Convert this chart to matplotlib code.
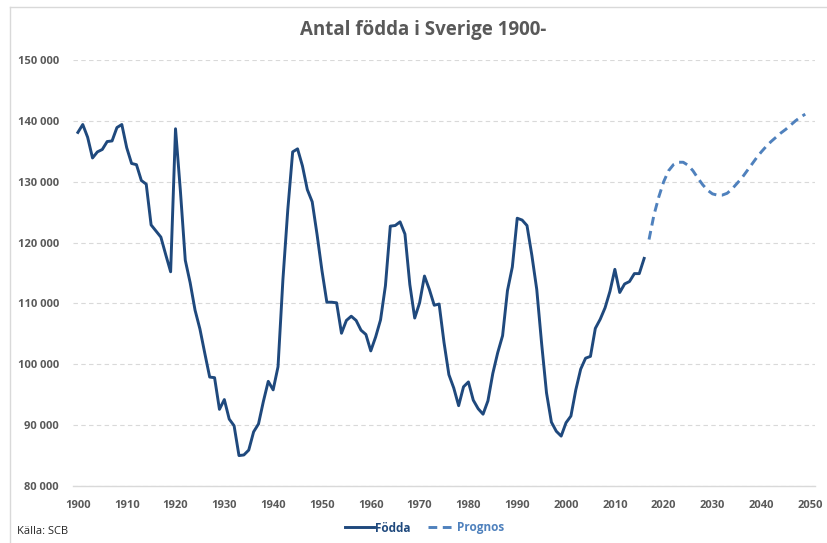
import matplotlib.pyplot as plt
from matplotlib.lines import Line2D
from matplotlib.ticker import FuncFormatter

# Födda per år 1900-2016
years = list(range(1900, 2017))
births = [
    138.1, 139.4, 137.3, 133.9, 134.9, 135.3, 136.6, 136.7, 138.9, 139.4,  # 1900-1909
    135.6, 133.0, 132.8, 130.2, 129.6, 122.9, 121.9, 120.9, 118.0, 115.2,  # 1910-1919
    138.7, 128.5, 117.1, 113.4, 108.9, 105.8, 101.8, 97.9, 97.8, 92.6,     # 1920-1929
    94.2, 91.0, 89.9, 85.0, 85.1, 85.9, 88.9, 90.2, 93.9, 97.2,           # 1930-1939
    95.8, 99.6, 113.9, 125.4, 134.9, 135.4, 132.6, 128.7, 126.7, 121.3,   # 1940-1949
    115.4, 110.2, 110.2, 110.1, 105.1, 107.2, 107.9, 107.2, 105.6, 104.9, # 1950-1959
    102.2, 104.5, 107.3, 112.9, 122.7, 122.8, 123.4, 121.4, 113.1, 107.6, # 1960-1969
    110.1, 114.5, 112.3, 109.7, 109.9, 103.6, 98.3, 96.1, 93.2, 96.3,     # 1970-1979
    97.1, 94.1, 92.7, 91.8, 94.0, 98.5, 101.9, 104.7, 112.1, 116.0,       # 1980-1989
    124.0, 123.7, 122.8, 117.9, 112.3, 103.4, 95.3, 90.5, 89.0, 88.2,     # 1990-1999
    90.4, 91.5, 95.8, 99.2, 101.0, 101.3, 105.9, 107.4, 109.3, 112.0,     # 2000-2009
    115.6, 111.8, 113.2, 113.6, 114.9, 114.9, 117.4,                      # 2010-2016
]

# Prognos 2017-2049
prog_years = list(range(2017, 2050))
prognos = [
    120.5, 124.5, 127.5, 130.0, 131.8, 132.8, 133.2, 133.2, 132.7, 131.8,
    130.6, 129.5, 128.6, 128.0, 127.8, 127.8, 128.1, 128.8, 129.7, 130.6,
    131.7, 132.8, 133.9, 134.9, 135.8, 136.6, 137.3, 138.0, 138.6, 139.3,
    140.0, 140.6, 141.1,
]

x_ticks = list(range(1900, 2051, 10))
y_ticks = list(range(80000, 150001, 10000))

plt.rcParams['font.family'] = ['Open Sans', 'DejaVu Sans']
grey = '#595959'
c_fodda = '#1F497D'
c_prog = '#4F81BD'

fig = plt.figure(figsize=(8.27, 5.43), dpi=100)
ax = fig.add_axes([73 / 827, 57 / 543, 742 / 827, 426 / 543])

ax.plot(years, [b * 1000 for b in births], color=c_fodda, lw=2.1,
        solid_joinstyle='round', label='Födda')
ax.plot(prog_years, [p * 1000 for p in prognos], color=c_prog, lw=2.1,
        dashes=(3, 1.9), label='Prognos')

ax.set_xlim(1899, 2051)
ax.set_ylim(80000, 150000)
ax.set_xticks(x_ticks)
ax.set_yticks(y_ticks)
ax.yaxis.set_major_formatter(FuncFormatter(lambda v, p: f"{int(v):,}".replace(',', ' ')))

ax.grid(axis='y', color='#D9D9D9', ls=(0, (4, 3)), lw=0.8)
ax.set_axisbelow(True)
for s in ['top', 'right', 'left']:
    ax.spines[s].set_visible(False)
ax.spines['bottom'].set_color('#D9D9D9')
ax.spines['bottom'].set_linewidth(1)
ax.tick_params(length=0, labelsize=8, labelcolor=grey, pad=10)
for lab in ax.get_xticklabels() + ax.get_yticklabels():
    lab.set_fontweight('bold')

fig.text(0.512, 0.945, 'Antal födda i Sverige 1900-', ha='center', va='center',
         fontsize=13.5, fontweight='bold', color=grey)

leg = fig.legend(loc='center', bbox_to_anchor=(425 / 827, 1 - 528 / 543), ncol=2,
                 frameon=False, fontsize=8.5, handlelength=2.4, columnspacing=1.5,
                 handletextpad=0.1)
for txt, col in zip(leg.get_texts(), [c_fodda, c_prog]):
    txt.set_color(col)
    txt.set_fontweight('bold')

fig.text(17 / 827, 1 - 531 / 543, 'Källa: SCB', ha='left', va='center',
         fontsize=8, color='#262626')

# ram runt diagrammet
fig.add_artist(Line2D([10 / 827, 10 / 827], [0, 1 - 7 / 543], transform=fig.transFigure,
                      color='#D9D9D9', lw=1))
fig.add_artist(Line2D([10 / 827, 1], [1 - 7 / 543, 1 - 7 / 543], transform=fig.transFigure,
                      color='#D9D9D9', lw=1))

fig.savefig('out.png', dpi=100)
